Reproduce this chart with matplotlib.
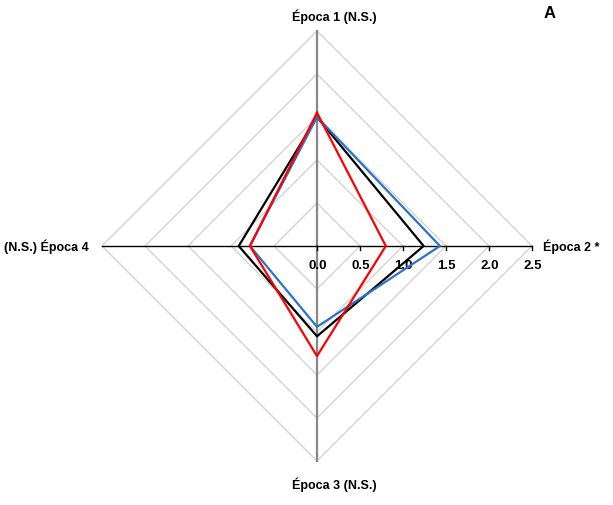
import numpy as np
import matplotlib
matplotlib.use('Agg')
import matplotlib.pyplot as plt

plt.rcParams['font.family'] = ['Liberation Sans', 'DejaVu Sans']

labels = ['Época 1 (N.S.)', 'Época 2 *', 'Época 3 (N.S.)', '(N.S.) Época 4']
black_vals = [1.50, 1.24, 1.05, 0.91]
blue_vals = [1.50, 1.43, 0.94, 0.78]
red_vals = [1.55, 0.80, 1.28, 0.78]
ticks = [0.0, 0.5, 1.0, 1.5, 2.0, 2.5]

# spokes go clockwise from the top
angles = np.pi / 2 - np.arange(4) * np.pi / 2


def to_xy(vals):
    v = np.array(vals + vals[:1])
    a = np.append(angles, angles[0])
    return v * np.cos(a), v * np.sin(a)


W, H, scale = 613, 506, 86.0
cx, cy = 317, 247
fig = plt.figure(figsize=(W / 100, H / 100), dpi=100)
ax = fig.add_axes([0, 0, 1, 1])
ax.set_xlim(-cx / scale, (W - cx) / scale)
ax.set_ylim(-(H - cy) / scale, cy / scale)
ax.axis('off')


def px(x, y):
    # pixel position (from top-left) to data coordinates
    return (x - cx) / scale, (cy - y) / scale


# diamond grid
for r in ticks[1:]:
    gx, gy = to_xy([r] * 4)
    ax.plot(gx, gy, color='#d4d4d4', lw=1.0, zorder=1)

rmax = ticks[-1]
ax.plot([0, 0], [-rmax, rmax], color='#888888', lw=1.6, zorder=2)
ax.plot([-rmax, rmax], [0, 0], color='black', lw=1.0, zorder=2)
for t in ticks:
    ax.plot([t, t], [0, -0.05], color='black', lw=1.0, zorder=2)
    ax.text(t + 0.01, px(0, 266)[1], f'{t:.1f}', ha='center', va='center',
            fontsize=9.5, fontweight='bold')

for vals, col in [(black_vals, 'black'), (blue_vals, '#2a74c8'), (red_vals, '#ff0000')]:
    lx, ly = to_xy(vals)
    ax.plot(lx, ly, color=col, lw=1.6, zorder=3)

fs = 9
ax.text(*px(334, 17), labels[0], ha='center', va='center', fontsize=fs, fontweight='bold')
ax.text(*px(543, 247), labels[1], ha='left', va='center', fontsize=fs, fontweight='bold')
ax.text(*px(334, 485), labels[2], ha='center', va='center', fontsize=fs, fontweight='bold')
ax.text(*px(89, 247), labels[3], ha='right', va='center', fontsize=fs, fontweight='bold')

ax.text(*px(550, 14), 'A', ha='center', va='center', fontsize=12, fontweight='bold')

fig.savefig('out.png', dpi=100)
